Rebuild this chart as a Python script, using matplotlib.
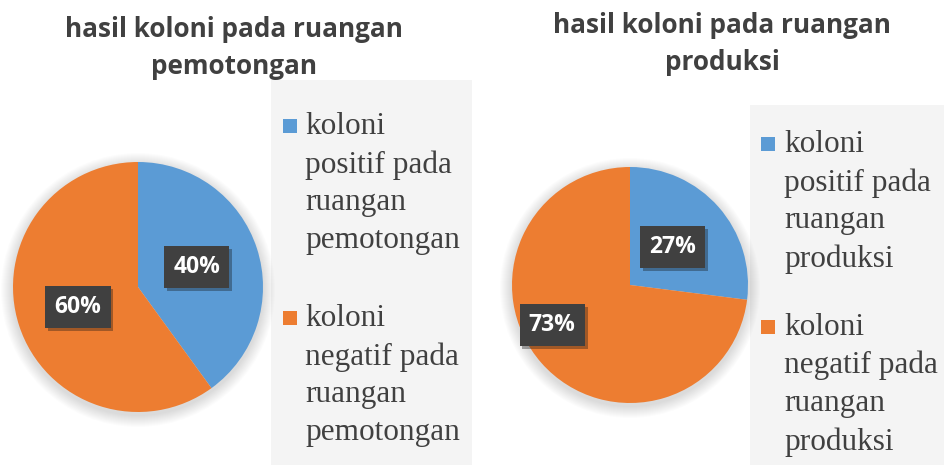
import matplotlib
matplotlib.use('Agg')
import matplotlib.pyplot as plt
import matplotlib.patheffects as pe
from matplotlib.patches import Rectangle, Circle

# data
titles = ['hasil koloni pada ruangan\npemotongan', 'hasil koloni pada ruangan\nproduksi']
left_values = [40, 60]
right_values = [27, 73]
left_labels = ['koloni\npositif pada\nruangan\npemotongan', 'koloni\nnegatif pada\nruangan\npemotongan']
right_labels = ['koloni\npositif pada\nruangan\nproduksi', 'koloni\nnegatif pada\nruangan\nproduksi']
colors = ['#5B9BD5', '#ED7D31']

W, H = 944, 465
fig = plt.figure(figsize=(W/100, H/100), dpi=100)
fig.patch.set_facecolor('white')

def fx(x):
    return x / W

def fy(y):
    return 1 - y / H

# layout per panel: pie centre/radius, title pos, legend box, legend rows
panels = [
    dict(values=left_values, labels=left_labels, title=titles[0],
         cx=138, cy=287, r=125, tx=234, ty=48,
         box=(271, 80, 472), item_y=[116, 308], text_x=305, sq_x=283,
         lab_pos=[(0.47, 0.16), (-0.48, -0.16)]),
    dict(values=right_values, labels=right_labels, title=titles[1],
         cx=630, cy=285, r=118, tx=722, ty=44,
         box=(750, 105, 944), item_y=[134, 317], text_x=784, sq_x=761,
         lab_pos=[(0.36, 0.32), (-0.66, -0.34)]),
]

for p in panels:
    cx, cy, r = p['cx'], p['cy'], p['r']
    # legend background
    bx, by, bx2 = p['box']
    fig.patches.append(Rectangle((fx(bx), 0), fx(bx2 - bx), fy(by),
                                 transform=fig.transFigure,
                                 facecolor='#F4F4F4', edgecolor='none', zorder=-1))

    # soft shadow behind pie
    sh = fig.add_axes([fx(cx - r - 20), fy(cy + r + 20), fx(2 * r + 40), (2 * r + 40) / H])
    sh.set_xlim(-r - 20, r + 20)
    sh.set_ylim(-r - 20, r + 20)
    sh.axis('off')
    for k in range(12):
        sh.add_patch(Circle((0, -3), r + 12 - k, color='#000000', alpha=0.012, lw=0))

    ax = fig.add_axes([fx(cx - r), fy(cy + r), fx(2 * r), 2 * r / H])
    wedges, _ = ax.pie(p['values'], colors=colors, startangle=90, counterclock=False,
                       radius=1, wedgeprops=dict(linewidth=0))
    ax.set_xlim(-1, 1)
    ax.set_ylim(-1, 1)
    ax.axis('off')
    for v, (lx, ly) in zip(p['values'], p['lab_pos']):
        t = ax.text(lx, ly, f'{v}%', ha='center', va='center', color='white',
                    fontsize=16.5, fontweight='bold', family='Open Sans',
                    bbox=dict(boxstyle='square,pad=0.4', fc='#404040', ec='none'))
        t.get_bbox_patch().set_path_effects([pe.SimplePatchShadow(offset=(2, -2), alpha=0.35),
                                             pe.Normal()])

    # title
    fig.text(fx(p['tx']), fy(p['ty']), p['title'], ha='center', va='center',
             fontsize=18.8, fontweight='bold', color='#404040', family='Open Sans',
             linespacing=1.5)

    # legend
    for c, lab, iy in zip(colors, p['labels'], p['item_y']):
        fig.patches.append(Rectangle((fx(p['sq_x']), fy(iy + 17)), 14 / W, 14 / H,
                                     transform=fig.transFigure, facecolor=c,
                                     edgecolor='none', zorder=2))
        fig.text(fx(p['text_x']), fy(iy - 4), lab, ha='left', va='top',
                 fontsize=22.5, color='#404040', family='Liberation Serif',
                 linespacing=1.4)

fig.savefig('out.png', dpi=100)
